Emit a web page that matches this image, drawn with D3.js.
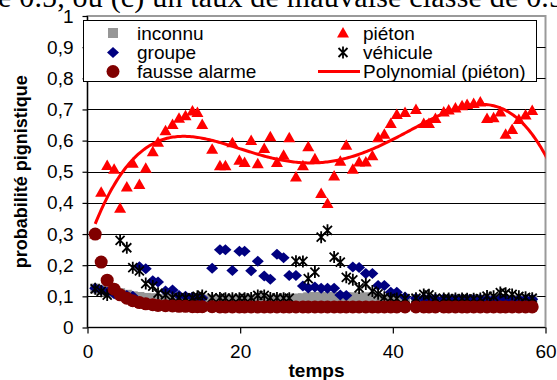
<!DOCTYPE html>
<html>
<head>
<meta charset="utf-8">
<script src="https://cdn.jsdelivr.net/npm/d3@7"></script>
<style>
  body { margin: 0; background: #fff; }
  svg { display: block; }
  text { font-family: "Liberation Sans", Arial, sans-serif; fill: #000; }
</style>
</head>
<body>
<svg id="chart" width="557" height="380"></svg>
<script>
// temps of each sample
const temps = [1.01, 1.79, 2.58, 3.49, 4.27, 5.15, 5.93, 6.80, 7.63, 8.55,
  9.24, 10.22, 11.14, 11.99, 12.84, 13.75, 14.4, 15.03, 16.33, 17.35,
  18.07, 18.98, 19.9, 20.58, 21.44, 22.31, 23.15, 23.95, 24.82, 25.69,
  26.43, 27.31, 28.22, 28.92, 29.79, 30.61, 31.44, 32.31, 33.12, 33.9,
  34.76, 35.58, 36.46, 37.32, 38.07, 38.89, 39.73, 40.52, 41.6, 43.03,
  44.05, 44.73, 45.58, 46.67, 47.32, 48.2, 49.07, 49.73, 50.59, 51.46,
  52.34, 53.2, 54.08, 54.78, 55.63, 56.51, 57.39, 58.26];

const inconnu = [0.125, 0.12, 0.115, 0.112, 0.11, 0.105, 0.1, 0.098, 0.095, 0.094,
  0.092, 0.092, 0.091, 0.091, 0.09, 0.09, 0.09, 0.09, 0.09, 0.09,
  0.09, 0.09, 0.09, 0.09, 0.09, 0.09, 0.09, 0.09, 0.09, 0.09,
  0.092, 0.093, 0.094, 0.097, 0.098, 0.098, 0.098, 0.098, 0.097, 0.097,
  0.097, 0.097, 0.097, 0.095, 0.093, 0.09, 0.09, 0.09, 0.089, 0.089,
  0.089, 0.089, 0.089, 0.089, 0.089, 0.089, 0.089, 0.089, 0.089, 0.089,
  0.089, 0.089, 0.089, 0.089, 0.089, 0.089, 0.089, 0.089];

const pieton = [0.30, 0.434, 0.52, 0.508, 0.383, 0.451, 0.527, 0.459, 0.511, 0.564,
  0.595, 0.632, 0.652, 0.672, 0.68, 0.695, 0.69, 0.652, 0.572, 0.519,
  0.519, 0.593, 0.537, 0.53, 0.60, 0.526, 0.575, 0.612, 0.53, 0.553,
  0.609, 0.483, 0.519, 0.58, 0.542, 0.43, 0.398, 0.486, 0.534, 0.585,
  0.508, 0.531, 0.531, 0.551, 0.609, 0.62, 0.655, 0.684, 0.69, 0.70,
  0.655, 0.655, 0.671, 0.692, 0.698, 0.705, 0.712, 0.716, 0.719, 0.724,
  0.671, 0.673, 0.692, 0.62, 0.636, 0.668, 0.682, 0.697];

const groupe = [0.126, 0.12, 0.113, 0.108, 0.105, 0.103, 0.1, 0.195, 0.189, 0.15,
  0.146, 0.117, 0.12, 0.103, 0.1, 0.098, 0.096, 0.095, 0.19, 0.25,
  0.25, 0.183, 0.245, 0.245, 0.182, 0.213, 0.165, 0.155, 0.235, 0.224,
  0.167, 0.167, 0.133, 0.127, 0.13, 0.126, 0.126, 0.126, 0.104, 0.103,
  0.194, 0.193, 0.173, 0.173, 0.135, 0.135, 0.113, 0.113, 0.098, 0.094,
  0.093, 0.092, 0.092, 0.092, 0.091, 0.091, 0.091, 0.091, 0.091, 0.091,
  0.091, 0.091, 0.091, 0.091, 0.091, 0.091, 0.091, 0.091];

const vehicule = [0.124, 0.116, 0.104, 0.12, 0.28, 0.256, 0.192, 0.182, 0.141, 0.133,
  0.11, 0.105, 0.096, 0.095, 0.095, 0.095, 0.1, 0.103, 0.095, 0.095,
  0.094, 0.094, 0.094, 0.094, 0.095, 0.103, 0.103, 0.095, 0.095, 0.094,
  0.094, 0.213, 0.212, 0.157, 0.178, 0.29, 0.312, 0.226, 0.21, 0.161,
  0.153, 0.127, 0.14, 0.117, 0.108, 0.097, 0.094, 0.093, 0.093, 0.094,
  0.106, 0.105, 0.094, 0.093, 0.093, 0.093, 0.093, 0.092, 0.092, 0.093,
  0.101, 0.1, 0.112, 0.11, 0.106, 0.1, 0.097, 0.094];

const fausseAlarme = [0.30, 0.21, 0.152, 0.123, 0.105, 0.094, 0.086, 0.08, 0.076, 0.073,
  0.071, 0.07, 0.069, 0.068, 0.068, 0.067, 0.067, 0.067, 0.067, 0.066,
  0.066, 0.066, 0.066, 0.066, 0.066, 0.066, 0.066, 0.066, 0.066, 0.066,
  0.066, 0.066, 0.066, 0.066, 0.066, 0.066, 0.066, 0.066, 0.066, 0.066,
  0.066, 0.066, 0.066, 0.066, 0.066, 0.066, 0.066, 0.066, 0.066, 0.066,
  0.066, 0.066, 0.066, 0.066, 0.066, 0.066, 0.066, 0.066, 0.066, 0.066,
  0.066, 0.066, 0.066, 0.066, 0.066, 0.066, 0.066, 0.066];

const xTicks = [0, 20, 40, 60];
const yTicks = [0, 0.1, 0.2, 0.3, 0.4, 0.5, 0.6, 0.7, 0.8, 0.9, 1];
const trendOrder = 4;

const svg = d3.select("#chart");

const x = d3.scaleLinear().domain([0, 60]).range([87.5, 545.5]);
const y = d3.scaleLinear().domain([0, 1]).range([327.5, 16]);

// cut-off line of the document above the chart (justified text)
svg.append("text")
  .attr("x", -2).attr("y", 7)
  .attr("textLength", 566).attr("lengthAdjust", "spacing")
  .style("font-family", "'Liberation Serif', 'Times New Roman', serif")
  .style("font-size", "30px")
  .text("e 0.5, ou (c) un taux de mauvaise classe de 0.5");

svg.append("defs").append("clipPath").attr("id", "plot")
  .append("rect").attr("x", x(0)).attr("y", y(1))
  .attr("width", x(60) - x(0)).attr("height", y(0) - y(1));

// plot area frame
svg.append("rect")
  .attr("x", x(0)).attr("y", y(1))
  .attr("width", x(60) - x(0)).attr("height", y(0) - y(1))
  .attr("fill", "#fff").attr("stroke", "#9a9a9a").attr("stroke-width", 2);

// gridlines
svg.append("g").selectAll("line")
  .data(yTicks.filter(v => v > 0 && v < 1))
  .join("line")
  .attr("x1", x(0)).attr("x2", x(60))
  .attr("y1", d => Math.round(y(d)) + 0.5).attr("y2", d => Math.round(y(d)) + 0.5)
  .attr("stroke", "#000").attr("stroke-width", 1);

// axes
const fmt = d => String(d3.format(".1~f")(d)).replace(".", ",");
const yAxis = svg.append("g")
  .attr("transform", `translate(${x(0)},0)`)
  .call(d3.axisLeft(y).tickValues(yTicks).tickSize(5).tickPadding(9).tickFormat(fmt));
const xAxis = svg.append("g")
  .attr("transform", `translate(0,${y(0)})`)
  .call(d3.axisBottom(x).tickValues(xTicks).tickSize(6).tickPadding(11));
[yAxis, xAxis].forEach(a => {
  a.selectAll("path, line").attr("stroke", "#000").attr("stroke-width", 1.2);
  a.selectAll("text").style("font-size", "19px").style("font-family", "'Liberation Sans', Arial, sans-serif");
});
xAxis.select(".domain").attr("d", `M${x(0)},0H${x(60)}`);
yAxis.select(".domain").attr("d", `M0,${y(0)}V${y(1)}`);

svg.append("text")
  .attr("transform", `translate(27,${(y(0) + y(1)) / 2}) rotate(-90)`)
  .attr("text-anchor", "middle")
  .style("font-size", "18px").style("font-weight", "bold")
  .text("probabilité pignistique");

svg.append("text")
  .attr("x", (x(0) + x(60)) / 2).attr("y", 377)
  .attr("text-anchor", "middle")
  .style("font-size", "19px").style("font-weight", "bold")
  .text("temps");

// marker shapes
const triPath = "M0,-6L6,4.5L-6,4.5Z";
const diaPath = "M0,-5.5L6,0L0,5.5L-6,0Z";
const starPath = "M-4.5,-4.5L4.5,4.5M-4.5,4.5L4.5,-4.5M0,-6V6";

const plot = svg.append("g").attr("clip-path", "url(#plot)");
const pts = vals => vals.map((v, i) => [temps[i], v]);

function drawSeries(vals, draw) {
  plot.append("g").selectAll("g").data(pts(vals)).join("g")
    .attr("transform", d => `translate(${x(d[0])},${y(d[1])})`)
    .call(draw);
}

drawSeries(inconnu, s => s.append("rect")
  .attr("x", -5).attr("y", -5).attr("width", 10).attr("height", 10).attr("fill", "#969696"));
drawSeries(pieton, s => s.append("path").attr("d", triPath).attr("fill", "#ff0000"));
drawSeries(groupe, s => s.append("path").attr("d", diaPath).attr("fill", "#000080"));
drawSeries(vehicule, s => s.append("path").attr("d", starPath)
  .attr("stroke", "#000").attr("stroke-width", 1.8).attr("fill", "none"));
drawSeries(fausseAlarme, s => s.append("circle").attr("r", 6.5).attr("fill", "#800000"));

// polynomial trendline (least squares) for piéton
function polyfit(xs, ys, deg) {
  const m = d3.mean(xs), h = (d3.max(xs) - d3.min(xs)) / 2;
  const n = deg + 1;
  const A = Array.from({ length: n }, () => new Array(n + 1).fill(0));
  xs.forEach((xv, i) => {
    const u = (xv - m) / h;
    const p = d3.range(n).map(j => Math.pow(u, j));
    for (let r = 0; r < n; r++) {
      for (let c = 0; c < n; c++) A[r][c] += p[r] * p[c];
      A[r][n] += p[r] * ys[i];
    }
  });
  for (let c = 0; c < n; c++) {
    let piv = c;
    for (let r = c + 1; r < n; r++) if (Math.abs(A[r][c]) > Math.abs(A[piv][c])) piv = r;
    [A[c], A[piv]] = [A[piv], A[c]];
    for (let r = 0; r < n; r++) {
      if (r === c) continue;
      const f = A[r][c] / A[c][c];
      for (let k = c; k <= n; k++) A[r][k] -= f * A[c][k];
    }
  }
  const coef = A.map((row, i) => row[n] / row[i]);
  return t => { const u = (t - m) / h; return coef.reduce((s, c, j) => s + c * Math.pow(u, j), 0); };
}

const trend = polyfit(temps, pieton, trendOrder);
const trendPts = d3.range(temps[0], 61, 0.2).map(t => [t, trend(t)]);
plot.append("path")
  .attr("d", d3.line().x(d => x(d[0])).y(d => y(d[1]))(trendPts))
  .attr("fill", "none").attr("stroke", "#ff0000").attr("stroke-width", 3);

// legend
const lg = svg.append("g");
lg.append("rect").attr("x", 83.5).attr("y", 20.5).attr("width", 453).attr("height", 61)
  .attr("fill", "#fff").attr("stroke", "#000").attr("stroke-width", 1);

const legendItems = [
  { label: "inconnu", col: 0, row: 0, kind: "square" },
  { label: "piéton", col: 1, row: 0, kind: "triangle" },
  { label: "groupe", col: 0, row: 1, kind: "diamond" },
  { label: "véhicule", col: 1, row: 1, kind: "star" },
  { label: "fausse alarme", col: 0, row: 2, kind: "circle" },
  { label: "Polynomial (piéton)", col: 1, row: 2, kind: "line" }
];
const colMarker = [113, 343], colText = [137, 363];
const rowY = [33, 52.5, 71.5];

legendItems.forEach(it => {
  const cx = colMarker[it.col], cy = rowY[it.row];
  const g = lg.append("g").attr("transform", `translate(${cx},${cy})`);
  if (it.kind === "square") g.append("rect").attr("x", -5).attr("y", -5).attr("width", 10).attr("height", 10).attr("fill", "#969696");
  if (it.kind === "triangle") g.append("path").attr("d", triPath).attr("fill", "#ff0000");
  if (it.kind === "diamond") g.append("path").attr("d", diaPath).attr("fill", "#000080");
  if (it.kind === "star") g.append("path").attr("d", starPath).attr("stroke", "#000").attr("stroke-width", 1.8);
  if (it.kind === "circle") g.append("circle").attr("r", 6.5).attr("fill", "#800000");
  if (it.kind === "line") g.append("line").attr("x1", -25).attr("x2", 17).attr("stroke", "#ff0000").attr("stroke-width", 3);
  lg.append("text").attr("x", colText[it.col]).attr("y", cy + 6.5)
    .style("font-size", "19px").text(it.label);
});
</script>
</body>
</html>
